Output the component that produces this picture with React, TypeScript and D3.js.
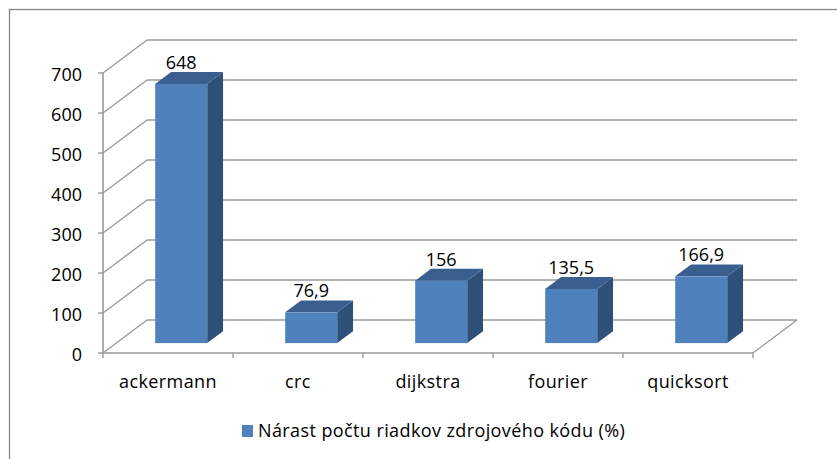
import React from "react";
import * as d3 from "d3";

const categories = ["ackermann", "crc", "dijkstra", "fourier", "quicksort"];
const values = [648, 76.9, 156, 135.5, 166.9];
const valueLabels = ["648", "76,9", "156", "135,5", "166,9"];
const yTicks = [0, 100, 200, 300, 400, 500, 600, 700];
const seriesName = "Nárast počtu riadkov zdrojového kódu (%)";

const W = 837;
const H = 459;
const FONT = "'Open Sans', 'Liberation Sans', sans-serif";
const FS = 18;
const LS = 0.4;

export default function App() {
  const x = d3.scaleBand<string>().domain(categories).range([103, 753]).paddingInner(0).paddingOuter(0);
  const y = d3.scaleLinear().domain([0, 700]).range([353, 73]);
  const DX = 44;
  const DY = -33;
  const f0 = 0.3;
  const f1 = 0.66;
  const barW = x.bandwidth() * 0.4;
  const grid = "#9a9a9a";
  const x0 = 103;
  const x1 = 753;

  return (
    <svg width={W} height={H} style={{ position: "absolute", left: 0, top: 0, background: "#fff" }}>
      <rect x={9.5} y={9.5} width={900} height={500} fill="#fff" stroke="#878787" strokeWidth={1.3} />
      {yTicks.map((t) => (
        <g key={t}>
          <line x1={x0 + DX} x2={x1 + DX} y1={y(t) + DY} y2={y(t) + DY} stroke={grid} strokeWidth={1.6} />
          <line x1={x0} x2={x0 + DX} y1={y(t)} y2={y(t) + DY} stroke={grid} strokeWidth={1.4} />
          <line x1={x0 - 5} x2={x0} y1={y(t)} y2={y(t)} stroke={grid} strokeWidth={1.4} />
          <text x={82} y={y(t) + 7.5} textAnchor="end" fontFamily={FONT} fontSize={FS} fill="#000">
            {t}
          </text>
        </g>
      ))}
      <line x1={x1} x2={x1 + DX} y1={y(0)} y2={y(0) + DY} stroke={grid} strokeWidth={1.4} />
      <line x1={x0} x2={x1} y1={y(0)} y2={y(0)} stroke={grid} strokeWidth={1.6} />
      <line x1={x0} x2={x0} y1={y(700)} y2={y(0)} stroke={grid} strokeWidth={1.6} />
      {categories.map((c) => (
        <line key={"t" + c} x1={x(c)!} x2={x(c)!} y1={y(0)} y2={y(0) + 5} stroke={grid} strokeWidth={1.4} />
      ))}
      <line x1={x1} x2={x1} y1={y(0)} y2={y(0) + 5} stroke={grid} strokeWidth={1.4} />
      {categories.map((c, i) => {
        const cx = x(c)! + x.bandwidth() / 2 + f0 * DX;
        const bx0 = cx - barW / 2;
        const bx1 = cx + barW / 2;
        const by0 = y(0) + f0 * DY;
        const byT = y(values[i]) + f0 * DY;
        const ddx = (f1 - f0) * DX;
        const ddy = (f1 - f0) * DY;
        const top = `M${bx0},${byT} L${bx0 + ddx},${byT + ddy} L${bx1 + ddx},${byT + ddy} L${bx1},${byT} Z`;
        const side = `M${bx1},${byT} L${bx1 + ddx},${byT + ddy} L${bx1 + ddx},${by0 + ddy} L${bx1},${by0} Z`;
        return (
          <g key={c}>
            <path d={side} fill="#2f5079" />
            <path d={top} fill="#3a5f8f" />
            <rect x={bx0} y={byT} width={barW} height={by0 - byT} fill="#4f81bd" />
            <text x={cx} y={byT + ddy - 3} textAnchor="middle" fontFamily={FONT} fontSize={FS} fill="#000">
              {valueLabels[i]}
            </text>
            <text x={x(c)! + x.bandwidth() / 2} y={388} textAnchor="middle" fontFamily={FONT} fontSize={FS} letterSpacing={LS} fill="#000">
              {c}
            </text>
          </g>
        );
      })}
      <rect x={242} y={425} width={11} height={12} fill="#4f81bd" />
      <text x={258} y={437} fontFamily={FONT} fontSize={FS} letterSpacing={LS} fill="#000">
        {seriesName}
      </text>
    </svg>
  );
}
